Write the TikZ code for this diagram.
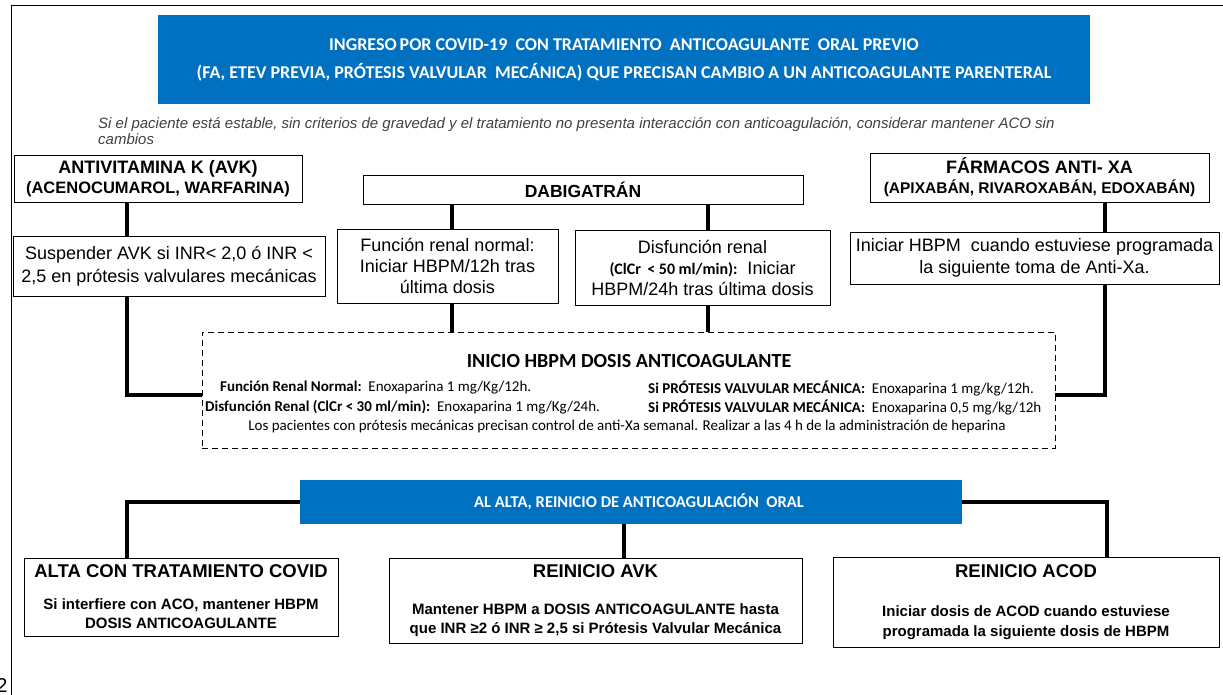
\documentclass[tikz,border=0pt]{standalone}
\usepackage{fontspec}
\setmainfont{Liberation Sans}
\newfontfamily\calibri{Carlito}
\usetikzlibrary{positioning,calc}
\definecolor{azul}{HTML}{0070C0}
\definecolor{gristexto}{HTML}{404040}
\newcommand{\tam}[2]{\fontsize{#1}{#2}\selectfont}
\tikzset{
  caja/.style={draw, line width=0.7pt, align=center, inner sep=1pt},
  barra/.style={fill=azul, text=white, align=center},
  enlace/.style={line width=3.5pt},
  fila/.style={inner sep=0pt, font=\calibri\tam{15}{17}},
}

\begin{document}
\begin{tikzpicture}[x=1pt,y=-1pt]
\useasboundingbox (0,0) rectangle (1223,695);
% marco de la pagina
\draw[line width=1pt] (11,695) -- (11,6) -- (1223,6);
\node[font=\tam{20}{20}, inner sep=0pt] (pag) at (2,686) {2};

% columnas de los enlaces
\coordinate (xl) at (127,0);
\coordinate (xd1) at (452,0);
\coordinate (xd2) at (708,0);
\coordinate (xr) at (1105,0);
\coordinate (xm) at (624,0);
\coordinate (xr2) at (1107,0);
\coordinate (yj) at (0,395);
\coordinate (ya) at (0,502);

% cabecera
\node[barra, minimum width=932pt, minimum height=89pt, font=\calibri\bfseries\tam{18}{28}] (ingreso) at (624,59.5)
  {INGRESO\,POR COVID-19 \ CON TRATAMIENTO \ ANTICOAGULANTE \ ORAL PREVIO\\
   (FA, ETEV PREVIA, PRÓTESIS VALVULAR \ MECÁNICA) QUE PRECISAN CAMBIO A UN ANTICOAGULANTE PARENTERAL};
\node[anchor=north west, align=left, inner sep=0pt, text=gristexto, font=\itshape\tam{15}{16}] (nota) at (98,117)
  {Si el paciente está estable, sin criterios de gravedad y el tratamiento no presenta interacción con anticoagulación, considerar mantener ACO sin\\cambios};

% tratamientos previos
\node[caja, minimum width=288pt, minimum height=47pt, font=\bfseries\tam{18}{20}] (avk) at (158,178.5)
  {ANTIVITAMINA K (AVK)\\{\tam{16.5}{20}(ACENOCUMAROL, WARFARINA)}};
\node[caja, minimum width=440pt, minimum height=29pt, font=\bfseries\tam{17.5}{20}] (dabi) at (583,189.5) {DABIGATRÁN};
\node[caja, minimum width=339pt, minimum height=49pt, font=\bfseries\tam{18}{20}] (antixa) at (1039.5,177.5)
  {FÁRMACOS ANTI- XA\\{\tam{15.5}{20}(APIXABÁN, RIVAROXABÁN, EDOXABÁN)}};

\node[caja, minimum width=312pt, minimum height=60pt, font=\tam{18}{23}] (susp) at (169,266)
  {Suspender AVK si INR< 2,0 ó INR <\\2,5 en prótesis valvulares mecánicas};
\node[caja, minimum width=221pt, minimum height=74pt, font=\tam{18}{21}] (frn) at (447.5,266)
  {Función renal normal:\\Iniciar HBPM/12h tras\\última dosis};
\node[caja, minimum width=255pt, minimum height=75pt, font=\tam{18}{21}] (dren) at (702.5,267.5)
  {Disfunción renal\\{\calibri\bfseries\tam{16}{21}(ClCr \,< 50 ml/min):}\ \ Iniciar\\HBPM/24h tras última dosis};
\node[caja, minimum width=369pt, minimum height=52pt, font=\tam{18}{22}] (inix) at (1034.5,258)
  {Iniciar HBPM \ cuando estuviese programada\\la siguiente toma de Anti-Xa.};

% dosis anticoagulante
\node[draw, line width=0.7pt, dash pattern=on 6pt off 4pt, minimum width=853pt, minimum height=116pt] (inicio) at (628.5,390) {};
\node[inner sep=0pt, font=\calibri\bfseries\tam{20}{22}] (iniciotit) at (629,361) {INICIO HBPM DOSIS ANTICOAGULANTE};
\node[fila, anchor=west] (frnl) at (220,388) {\textbf{Función Renal Normal:}\ \ Enoxaparina 1 mg/Kg/12h.};
\node[fila, anchor=west] (drnl) at (205,407) {\textbf{Disfunción Renal (ClCr < 30 ml/min):}\ \ Enoxaparina 1 mg/Kg/24h.};
\node[fila, anchor=west] (pvm1) at (648,388) {\textbf{Si PRÓTESIS VALVULAR MECÁNICA:}\ \ Enoxaparina 1 mg/kg/12h.};
\node[fila, anchor=west] (pvm2) at (648,407) {\textbf{Si PRÓTESIS VALVULAR MECÁNICA:}\ \ Enoxaparina 0,5 mg/kg/12h};
\node[fila] (control) at (627,426) {Los pacientes con prótesis mecánicas precisan control de anti-Xa semanal. Realizar a las 4 h de la administración de heparina};

% al alta
\node[barra, minimum width=662pt, minimum height=44pt, font=\calibri\bfseries\tam{16.5}{18}] (alta) at (631,502)
  {\hspace*{16pt}AL ALTA, REINICIO DE ANTICOAGULACIÓN \ ORAL};
\node[caja, minimum width=314pt, minimum height=78pt, font=\bfseries\tam{15}{19}] (covid) at (181,597)
  {{\tam{18.5}{19}ALTA CON TRATAMIENTO COVID}\\[13pt]Si interfiere con ACO, mantener HBPM\\DOSIS ANTICOAGULANTE};
\node[caja, minimum width=413pt, minimum height=85pt, font=\bfseries\tam{15}{19}] (ravk) at (595.5,600.5)
  {{\tam{18.5}{19}REINICIO AVK}\\[18pt]Mantener HBPM a DOSIS ANTICOAGULANTE hasta\\que INR ≥2 ó INR ≥ 2,5 si Prótesis Valvular Mecánica};
\node[caja, minimum width=386pt, minimum height=90pt, font=\bfseries\tam{15}{20}] (racod) at (1026,602)
  {{\tam{18.5}{20}REINICIO ACOD}\\[19pt]Iniciar dosis de ACOD cuando estuviese\\programada la siguiente dosis de HBPM};

% enlaces
\draw[enlace] (avk.south -| xl) -- (susp.north -| xl);
\draw[enlace] (dabi.south -| xd1) -- (frn.north -| xd1);
\draw[enlace] (dabi.south -| xd2) -- (dren.north -| xd2);
\draw[enlace] (antixa.south -| xr) -- (inix.north -| xr);
\draw[enlace] (frn.south -| xd1) -- (inicio.north -| xd1);
\draw[enlace] (dren.south -| xd2) -- (inicio.north -| xd2);
\draw[enlace] (susp.south -| xl) |- (inicio.west |- yj);
\draw[enlace] (inix.south -| xr) |- (inicio.east |- yj);
\draw[enlace] (alta.west |- ya) -| (covid.north -| xl);
\draw[enlace] (alta.east |- ya) -| (racod.north -| xr2);
\draw[enlace] (alta.south -| xm) -- (ravk.north -| xm);
\end{tikzpicture}
\end{document}
